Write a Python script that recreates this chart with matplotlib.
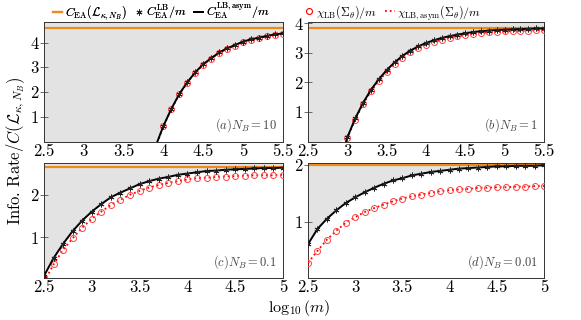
import numpy as np
import matplotlib
matplotlib.use("Agg")
import matplotlib.pyplot as plt
from matplotlib.lines import Line2D
from matplotlib.ticker import FuncFormatter

plt.rcParams['font.family'] = ['cmr10', 'DejaVu Serif']
plt.rcParams['mathtext.fontset'] = 'cm'
plt.rcParams['axes.formatter.use_mathtext'] = True

# ---------------- data ----------------
# panel (a) N_B = 10
xa = [3.9, 4.0, 4.1, 4.2, 4.3, 4.4, 4.5, 4.6, 4.7, 4.8, 4.9, 5.0, 5.1, 5.2, 5.3, 5.4, 5.5]
black_a = [-0.2, 0.64, 1.33, 1.93, 2.40, 2.80, 3.13, 3.37, 3.60, 3.77, 3.90, 4.04, 4.13, 4.20, 4.27, 4.33, 4.37]
red_a = [-0.25, 0.62, 1.31, 1.91, 2.38, 2.78, 3.11, 3.35, 3.58, 3.75, 3.88, 4.02, 4.11, 4.18, 4.25, 4.31, 4.35]
cap_a = 4.58

# panel (b) N_B = 1
xb = [2.9, 3.0, 3.1, 3.2, 3.3, 3.4, 3.5, 3.6, 3.7, 3.8, 3.9, 4.0, 4.1, 4.2, 4.3, 4.4, 4.5,
      4.6, 4.7, 4.8, 4.9, 5.0, 5.1, 5.2, 5.3, 5.4, 5.5]
black_b = [-0.8, 0.14, 0.78, 1.31, 1.75, 2.11, 2.42, 2.68, 2.90, 3.08, 3.22, 3.34, 3.43, 3.51, 3.57,
           3.62, 3.67, 3.71, 3.74, 3.76, 3.78, 3.79, 3.80, 3.81, 3.82, 3.83, 3.83]
red_b = [-0.85, 0.12, 0.74, 1.27, 1.70, 2.05, 2.36, 2.62, 2.84, 3.02, 3.16, 3.28, 3.37, 3.45, 3.51,
         3.56, 3.61, 3.65, 3.68, 3.70, 3.72, 3.73, 3.74, 3.75, 3.76, 3.77, 3.77]
cap_b = 3.85

# panel (c) N_B = 0.1
xc = [2.5, 2.6, 2.7, 2.8, 2.9, 3.0, 3.1, 3.2, 3.3, 3.4, 3.5, 3.6, 3.7, 3.8, 3.9, 4.0, 4.1, 4.2,
      4.3, 4.4, 4.5, 4.6, 4.7, 4.8, 4.9, 5.0]
black_c = [0.09, 0.51, 0.85, 1.15, 1.40, 1.61, 1.79, 1.95, 2.06, 2.16, 2.26, 2.33, 2.39, 2.43, 2.48,
           2.51, 2.54, 2.57, 2.58, 2.60, 2.61, 2.62, 2.63, 2.64, 2.64, 2.65]
red_c = [-0.05, 0.36, 0.71, 0.98, 1.23, 1.44, 1.61, 1.77, 1.89, 2.01, 2.10, 2.18, 2.24, 2.29, 2.33,
         2.37, 2.40, 2.41, 2.43, 2.44, 2.45, 2.46, 2.47, 2.47, 2.47, 2.48]
cap_c = 2.67

# panel (d) N_B = 0.01
xd = xc
black_d = [0.60, 0.87, 1.05, 1.20, 1.33, 1.43, 1.52, 1.60, 1.67, 1.73, 1.77, 1.82, 1.85, 1.88, 1.90,
           1.92, 1.94, 1.95, 1.96, 1.97, 1.98, 1.98, 1.99, 1.99, 1.99, 2.00]
red_d = [0.27, 0.48, 0.68, 0.84, 0.98, 1.08, 1.17, 1.24, 1.30, 1.36, 1.41, 1.45, 1.48, 1.51, 1.54,
         1.56, 1.57, 1.58, 1.60, 1.60, 1.61, 1.61, 1.62, 1.62, 1.63, 1.63]
cap_d = 2.0

panel_labels = [r'$(a)N_B=10$', r'$(b)N_B=1$', r'$(c)N_B=0.1$', r'$(d)N_B=0.01$']
xlims = [(2.5, 5.5), (2.5, 5.5), (2.5, 5.0), (2.5, 5.0)]
ylims = [(0, 4.83), (0, 4.05), (0.04, 2.76), (0, 2.04)]
yticks = [[1, 2, 3, 4], [1, 2, 3, 4], [1, 2], [1, 2]]
xticks_l = [[2.5, 3, 3.5, 4, 4.5, 5, 5.5], [2.5, 3, 3.5, 4, 4.5, 5, 5.5],
            [2.5, 3, 3.5, 4, 4.5, 5], [2.5, 3, 3.5, 4, 4.5, 5]]

xs = [xa, xb, xc, xd]
blacks = [black_a, black_b, black_c, black_d]
reds = [red_a, red_b, red_c, red_d]
caps = [cap_a, cap_b, cap_c, cap_d]

# ---------------- figure ----------------
W, H = 581, 320
fig = plt.figure(figsize=(W / 100, H / 100), dpi=100)

def rect(l, r, t, b):
    return [l / W, 1 - b / H, (r - l) / W, (b - t) / H]

rects = [rect(44, 283, 22, 141.5), rect(308, 544, 22, 141.5),
         rect(44, 283, 163, 278), rect(308, 544, 163, 278)]

orange = '#f08a1c'
fillc = '#e3e3e3'
star = (6, 2, 0)
fmt = FuncFormatter(lambda v, p: '%g' % v)

for i in range(4):
    ax = fig.add_axes(rects[i])
    x = np.array(xs[i]); yb = np.array(blacks[i]); yr = np.array(reds[i])
    y0, y1 = ylims[i]
    xf = np.r_[xlims[i][0], x]
    lf = np.r_[y0, np.maximum(yb, y0)]
    ax.fill_between(xf, lf, y1, color=fillc, lw=0, zorder=0)
    ax.axhline(caps[i], color=orange, lw=1.6, zorder=2)
    ax.plot(x, yr, ':', color='red', lw=1.3, zorder=3)
    ax.plot(x, yr, 'o', mfc='none', mec='#ff4040', ms=4.3, mew=0.7, zorder=3)
    ax.plot(x, yb, '-', color='black', lw=1.4, zorder=4)
    ax.plot(x, yb, linestyle='none', marker=star, color='#222222', ms=4.2, mew=0.6, zorder=5)
    ax.set_xlim(*xlims[i]); ax.set_ylim(y0, y1)
    ax.set_xticks(xticks_l[i]); ax.set_yticks(yticks[i])
    ax.xaxis.set_major_formatter(fmt); ax.yaxis.set_major_formatter(fmt)
    ax.tick_params(axis='x', length=0, labelsize=12, pad=1.5)
    ax.tick_params(axis='y', direction='inout', length=6, width=0.6, color='#555555',
                   labelsize=12, pad=1)
    for s in ax.spines.values():
        s.set_color('#333333'); s.set_linewidth(0.7)
    ax.text(0.975, 0.06, panel_labels[i], transform=ax.transAxes, ha='right', va='bottom',
            fontsize=9, color='#444444')

fig.text(0.028, 0.53, r'Info. Rate/$C(\mathcal{L}_{\kappa,N_B})$', rotation=90,
         ha='center', va='center', fontsize=12)
fig.text(0.515, 1 - 311.5 / H, r'$\log_{10}(m)$', ha='center', va='baseline', fontsize=11.5)

handles = [Line2D([], [], color=orange, lw=1.6),
           Line2D([], [], linestyle='none', marker=star, color='#222222', ms=4.2, mew=0.6),
           Line2D([], [], color='black', lw=1.4),
           Line2D([], [], linestyle='none', marker='o', mfc='none', mec='red', ms=4.3, mew=0.8),
           Line2D([], [], linestyle=':', color='red', lw=1.3)]
labels = [r'$C_{\mathrm{EA}}(\mathcal{L}_{\kappa,N_B})$',
          r'$C_{\mathrm{EA}}^{\mathrm{LB}}/m$',
          r'$C_{\mathrm{EA}}^{\mathrm{LB,asym}}/m$',
          r'$\chi_{\mathrm{LB}}(\Sigma_{\theta})/m$',
          r'$\chi_{\mathrm{LB,asym}}(\Sigma_{\theta})/m$']
leg_kw = dict(loc='center', frameon=False, fontsize=8.7, handlelength=0.8,
              handletextpad=0.2, columnspacing=0.6, borderpad=0, borderaxespad=0)
leg1 = fig.legend(handles[:3], labels[:3], bbox_to_anchor=(0.277, 0.965), ncol=3, **leg_kw)
fig.add_artist(leg1)
fig.legend(handles[3:], labels[3:], bbox_to_anchor=(0.676, 0.962), ncol=2, **leg_kw)

fig.savefig('out.png', dpi=100)
